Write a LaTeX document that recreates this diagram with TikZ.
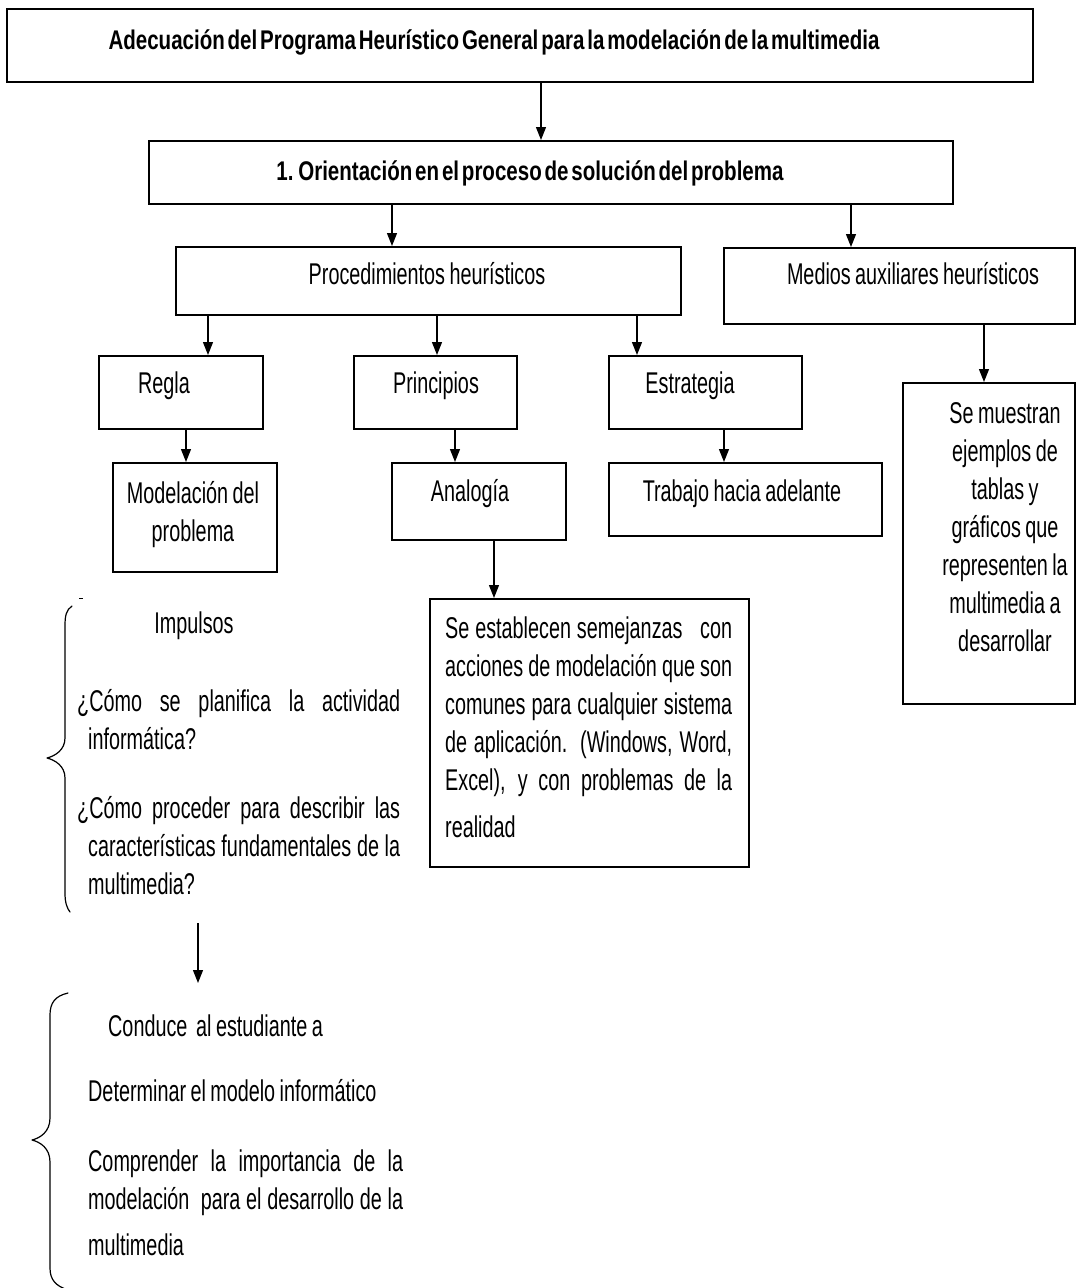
\documentclass[tikz,border=0pt]{standalone}
\usepackage{fontspec}
\setmainfont{Liberation Sans}[FakeStretch=0.66, WordSpace=0.8]
\newfontfamily\headfont{Liberation Sans}[FakeStretch=0.76, WordSpace=0.5]
\usetikzlibrary{arrows.meta}
\newcommand\firstline{\rule{0pt}{28pt}}

\begin{document}
\begin{tikzpicture}[x=1pt, y=-1pt,
  box/.style={draw, line width=1.6pt, inner sep=0pt, anchor=north west},
  arr/.style={line width=1.3pt, -{Triangle[length=13pt, width=10pt]}},
  txt/.style={inner sep=0pt, font=\fontsize{30}{38}\selectfont},
  head/.style={inner sep=0pt, font=\headfont\bfseries\fontsize{27}{32}\selectfont},
  brace/.style={line width=1.2pt, line cap=round, line join=round}
]
\useasboundingbox (0,0) rectangle (1076,1288);

% boxes
\node[box, minimum width=1026pt, minimum height=73pt] (title)    at (6,8) {};
\node[box, minimum width=804pt,  minimum height=63pt] (orient)   at (148,140) {};
\node[box, minimum width=505pt,  minimum height=68pt] (proc)     at (175,246) {};
\node[box, minimum width=351pt,  minimum height=76pt] (medios)   at (723,247) {};
\node[box, minimum width=164pt,  minimum height=73pt] (regla)    at (98,355) {};
\node[box, minimum width=163pt,  minimum height=73pt] (princ)    at (353,355) {};
\node[box, minimum width=193pt,  minimum height=73pt] (estr)     at (608,355) {};
\node[box, minimum width=164pt,  minimum height=109pt] (model)   at (112,462) {};
\node[box, minimum width=174pt,  minimum height=77pt] (analog)   at (391,462) {};
\node[box, minimum width=273pt,  minimum height=73pt] (trab)     at (608,462) {};
\node[box, minimum width=319pt,  minimum height=268pt] (semej)   at (429,598) {};
\node[box, minimum width=172pt,  minimum height=321pt] (muestran) at (902,382) {};

% texts inside the boxes
\node[head, anchor=base] (tTitle) at (494,49)
  {Adecuación del Programa Heurístico General para la modelación de la multimedia};
\node[head, anchor=base] (tOrient) at (530,180)
  {1. Orientación en el proceso de solución del problema};
\node[txt, anchor=base] (tProc)   at (427,284) {Procedimientos heurísticos};
\node[txt, anchor=base] (tMed)    at (913,284) {Medios auxiliares heurísticos};
\node[txt, anchor=base] (tRegla)  at (164,393) {Regla};
\node[txt, anchor=base] (tPrinc)  at (436,393) {Principios};
\node[txt, anchor=base] (tEstr)   at (690,393) {Estrategia};
\node[txt, anchor=north, align=center] (tModel) at (193,475)
  {\firstline Modelación del\\problema};
\node[txt, anchor=base] (tAnalog) at (470,501) {Analogía};
\node[txt, anchor=base] (tTrab)   at (742,501) {Trabajo hacia adelante};
\node[txt, anchor=north west, align=left] (tSemej) at (445,610)
  {\firstline\makebox[287pt][s]{Se establecen semejanzas \ \ con}\\
   \makebox[287pt][s]{acciones de modelación que son}\\
   \makebox[287pt][s]{comunes para cualquier sistema}\\
   \makebox[287pt][s]{de aplicación. (Windows, Word,}\\
   \makebox[287pt][s]{Excel), y con problemas de la}\\[9pt]
   realidad};
\node[txt, anchor=north, align=center] (tMuestran) at (1005,395)
  {\firstline Se muestran\\ejemplos de\\tablas y\\gráficos que\\representen la\\multimedia a\\desarrollar};

% connectors between the boxes
\coordinate (a1) at (541,0);
\coordinate (a2) at (392,0);
\coordinate (a3) at (851,0);
\coordinate (a4) at (208,0);
\coordinate (a5) at (437,0);
\coordinate (a6) at (637,0);
\coordinate (a7) at (186,0);
\coordinate (a8) at (455,0);
\coordinate (a9) at (724,0);
\coordinate (a10) at (494,0);
\coordinate (a11) at (984,0);
\draw[arr] (title.south -| a1)  -- (orient.north -| a1);
\draw[arr] (orient.south -| a2) -- (proc.north -| a2);
\draw[arr] (orient.south -| a3) -- (medios.north -| a3);
\draw[arr] (proc.south -| a4)   -- (regla.north -| a4);
\draw[arr] (proc.south -| a5)   -- (princ.north -| a5);
\draw[arr] (proc.south -| a6)   -- (estr.north -| a6);
\draw[arr] (regla.south -| a7)  -- (model.north -| a7);
\draw[arr] (princ.south -| a8)  -- (analog.north -| a8);
\draw[arr] (estr.south -| a9)   -- (trab.north -| a9);
\draw[arr] (analog.south -| a10) -- (semej.north -| a10);
\draw[arr] (medios.south -| a11) -- (muestran.north -| a11);

% first brace: impulses
\draw[line width=1pt] (79,598) -- (83,598);
\draw[brace] (72,606) .. controls (66,610) and (65,616) .. (65,626)
  -- (65,738) .. controls (65,750) and (55,756) .. (47,758)
  .. controls (55,760) and (65,766) .. (65,778)
  -- (65,893) .. controls (65,903) and (67,908) .. (70,912);
\node[txt, anchor=base] (tImp) at (194,633) {Impulsos};
\node[txt, anchor=north west, align=left] (tQ1) at (77,683)
  {\firstline\makebox[323pt][s]{¿Cómo se planifica la actividad}\\
   \hspace*{11pt}informática?};
\node[txt, anchor=north west, align=left] (tQ2) at (77,790)
  {\firstline\makebox[323pt][s]{¿Cómo proceder para describir las}\\
   \hspace*{11pt}\makebox[312pt][s]{características fundamentales de la}\\
   \hspace*{11pt}multimedia?};

% arrow down to the second block
\coordinate (qEnd) at (198,923);
\coordinate (cTop) at (198,983);
\draw[arr] (qEnd) -- (cTop);

% second brace: outcomes
\draw[brace] (68,993) .. controls (55,996) and (50,1003) .. (50,1015)
  -- (50,1118) .. controls (50,1132) and (40,1138) .. (32,1140)
  .. controls (40,1142) and (50,1148) .. (50,1162)
  -- (50,1268) .. controls (50,1280) and (56,1286) .. (68,1290);
\node[txt, anchor=base west] (tCond) at (108,1036) {Conduce \ al estudiante a};
\node[txt, anchor=base west] (tDet)  at (88,1101) {Determinar el modelo informático};
\node[txt, anchor=north west, align=left] (tComp) at (88,1143)
  {\firstline\makebox[315pt][s]{Comprender la importancia de la}\\
   \makebox[315pt][s]{modelación \ para el desarrollo de la}\\[8pt]
   multimedia};
\end{tikzpicture}
\end{document}
